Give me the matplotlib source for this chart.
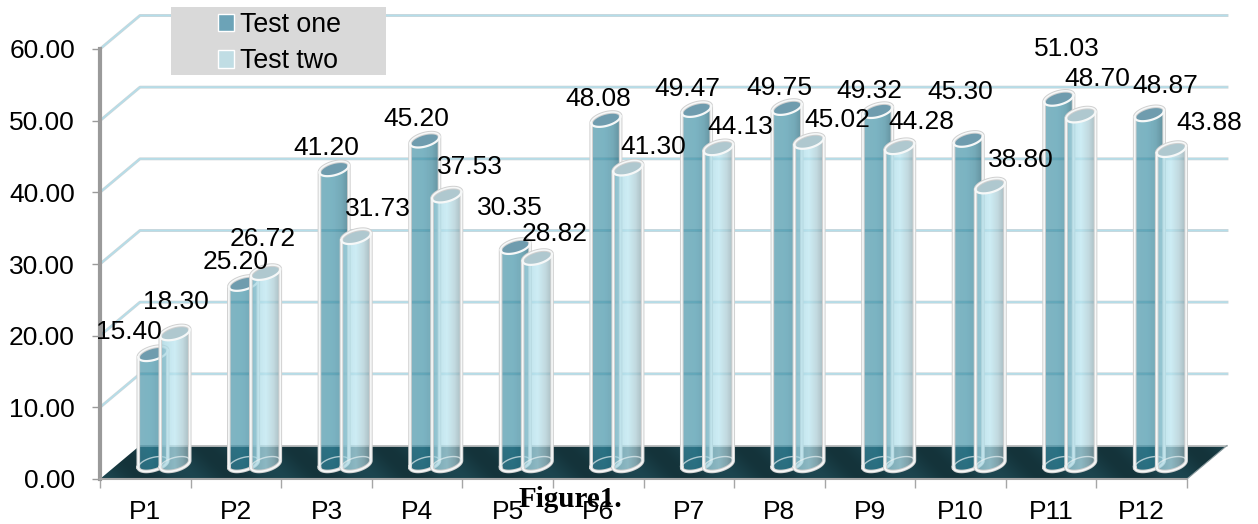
import numpy as np
import matplotlib
matplotlib.use("Agg")
import matplotlib.pyplot as plt
from matplotlib.patches import Polygon, Rectangle, Patch
from matplotlib.path import Path
from matplotlib.colors import to_rgb

categories = ["P1", "P2", "P3", "P4", "P5", "P6", "P7", "P8", "P9", "P10", "P11", "P12"]
test_one = [15.40, 25.20, 41.20, 45.20, 30.35, 48.08, 49.47, 49.75, 49.32, 45.30, 51.03, 48.87]
test_two = [18.30, 26.72, 31.73, 37.53, 28.82, 41.30, 44.13, 45.02, 44.28, 38.80, 48.70, 43.88]
y_ticks = [0, 10, 20, 30, 40, 50, 60]

# label offsets from the top of each cylinder, in pixels (layout only)
off_one = [(-24, 22), (-8, 21), (-8, 21), (-8, 21), (-5, 38), (-8, 20),
           (-9, 20), (-8, 19), (-8, 20), (-8, 47), (8, 49), (16, 28)]
off_two = [(1, 31), (-3, 34), (22, 28), (23, 28), (17, 23), (25, 21),
           (22, 21), (28, 21), (22, 25), (31, 26), (16, 36), (38, 27)]

W, H = 1258, 524
L, R, T, B = 100, 1187, 49, 479
plt.rcParams["font.family"] = ["Liberation Sans", "DejaVu Sans"]
FS = 19

fig = plt.figure(figsize=(W / 100, H / 100), dpi=100)
ax = fig.add_axes([L / W, 1 - B / H, (R - L) / W, (B - T) / H])
ax.set_xlim(0, 12)
ax.set_ylim(0, 60)
PX, PY = 12 / (R - L), 60 / (B - T)
DX, DY = 40 * PX, 33.5 * PY


def clipped_image(rgba, extent, verts, z):
    im = ax.imshow(rgba, extent=extent, aspect="auto", origin="lower",
                   interpolation="bilinear", zorder=z)
    im.set_clip_box(fig.bbox)
    im.set_clip_path(Path(verts), ax.transData)
    return im


# back wall grid
for v in y_ticks[1:]:
    xs = [0, DX, 12 + DX]
    ys = [v, v + DY, v + DY]
    ax.plot(xs, ys, color="#ccd6d9", lw=2.1, clip_on=False, zorder=1, solid_joinstyle="round")
    ax.plot(xs, ys, color="#b4deea", lw=1.1, clip_on=False, zorder=1.1, solid_joinstyle="round")

# floor
floor = np.array([[0, 0], [DX, DY], [12 + DX, DY], [12, 0]])
xx, yy = np.meshgrid(np.linspace(0, 12 + DX, 1200), np.linspace(0, DY, 34))
tex = 0.5 + 0.5 * np.cos((xx / PX + yy / PY) * 2 * np.pi / 90)
c0, c1 = np.array(to_rgb("#14333a")), np.array(to_rgb("#1d4650"))
floor_img = c0[None, None, :] * (1 - tex[..., None]) + c1[None, None, :] * tex[..., None]
clipped_image(floor_img, (0, 12 + DX, 0, DY), floor, 2)
ax.plot([DX, 12 + DX], [DY, DY], color="#c9c9c9", lw=1.2, clip_on=False, zorder=2.1)
ax.plot([12, 12 + DX], [0, DY], color="#8a9a9e", lw=0.8, clip_on=False, zorder=2.1)

A, Bb, TH = 15.2, 6.4, np.radians(16)
BASE = 15.0 * PY


def ell(cx, cy, t):
    px_x = A * np.cos(t) * np.cos(TH) - Bb * np.sin(t) * np.sin(TH)
    px_y = A * np.cos(t) * np.sin(TH) + Bb * np.sin(t) * np.cos(TH)
    return np.column_stack([cx + px_x * PX, cy + px_y * PY])


def gradient(stops, alpha):
    pos = [s[0] for s in stops]
    cols = np.array([to_rgb(s[1]) for s in stops])
    u = np.linspace(0, 1, 80)
    rgb = np.column_stack([np.interp(u, pos, cols[:, k]) for k in range(3)])
    return np.dstack([rgb[None, :, :], np.full((1, 80), alpha)])


GR_ONE = gradient([(0, "#3d8ca2"), (0.45, "#348ba2"), (0.72, "#2a7c92"), (1, "#094d62")], 0.65)
GR_TWO = gradient([(0, "#86bcca"), (0.15, "#a5d6e2"), (0.5, "#bae6f1"), (0.75, "#aacbd3"), (1, "#8099a0")], 0.72)


def cylinder(i, offset_px, value, grad, cap, z):
    cx = i + offset_px * PX
    by = BASE
    ty = value + BASE
    tl = np.arctan2(-Bb * np.sin(TH), A * np.cos(TH)) + np.pi  # left-most angle
    t_low = np.linspace(tl, tl + np.pi, 40)   # lower arc, left to right
    t_up = np.linspace(tl + np.pi, tl + 2 * np.pi, 40)  # upper arc, right to left
    body = np.vstack([ell(cx, by, t_low), ell(cx, ty, t_up)])
    clipped_image(grad, (cx - 16 * PX, cx + 16 * PX, 0, 60 + DY), body, z)
    top = ell(cx, ty, np.linspace(0, 2 * np.pi, 80))
    ax.add_patch(Polygon(top, closed=True, fc=cap, ec="none", zorder=z + .01, clip_on=False))
    for lw, col, zz in ((2.6, "#d0d0d0", z + .02), (1.2, "#f6f8f8", z + .03)):
        ax.plot(*np.vstack([body, body[:1]]).T, color=col, lw=lw, clip_on=False, zorder=zz,
                solid_joinstyle="round")
    ax.plot(*ell(cx, ty, t_low).T, color="#f6f8f8", lw=1.6, clip_on=False, zorder=z + .04)
    ax.plot(*ell(cx, by, t_up).T, color="#e6f0f2", lw=1.0, clip_on=False, zorder=z + .04, alpha=.7)


for i in range(len(categories)):
    cylinder(i, 53, test_one[i], GR_ONE, "#6f9cae", 3 + i * .2)
    cylinder(i, 75, test_two[i], GR_TWO, "#afc8cf", 3.1 + i * .2)

# data labels
for i in range(len(categories)):
    for vals, off, cp in ((test_one, off_one, 53), (test_two, off_two, 75)):
        ax.text(i + (cp + off[i][0]) * PX, vals[i] + BASE + off[i][1] * PY, f"{vals[i]:.2f}",
                ha="center", va="center", fontsize=FS, color="black", zorder=20, clip_on=False)

# axes
for s in ("top", "right"):
    ax.spines[s].set_visible(False)
ax.patch.set_alpha(0)
ax.spines["left"].set(color="#9a9a9a", linewidth=3, zorder=15)
ax.spines["bottom"].set(color="#a6a6a6", linewidth=1.5, zorder=15)
ax.set_yticks(y_ticks)
ax.set_yticklabels([f"{v:.2f}" for v in y_ticks], fontsize=FS)
ax.tick_params(axis="y", length=6, width=1, color="#9a9a9a", pad=12)
ax.set_xticks(np.arange(13))
ax.set_xticklabels([])
ax.tick_params(axis="x", which="major", length=6.5, width=1, color="#a6a6a6")
ax.set_xticks(np.arange(12) + 0.5, minor=True)
ax.set_xticklabels(categories, minor=True, fontsize=FS)
ax.tick_params(axis="x", which="minor", length=0, pad=15)

# legend
fig.add_artist(Rectangle((171 / W, 1 - 75 / H), 215 / W, 68 / H, transform=fig.transFigure,
                         fc="#d9d9d9", ec="none", zorder=30))
handles = [Patch(fc="#6ca3b7", ec="white", lw=1, label="Test one"),
           Patch(fc="#c0dde4", ec="white", lw=1, label="Test two")]
leg = fig.legend(handles=handles, loc="upper left", bbox_to_anchor=(215 / W, 1 - 9 / H),
                 frameon=False, fontsize=19.3, handlelength=0.62, handleheight=0.62,
                 handletextpad=0.2, labelspacing=0.4, borderpad=0.1, borderaxespad=0)
leg.set_zorder(31)

fig.text(570 / W, 1 - 507 / H, "Figure1.", family=["Liberation Serif"], weight="bold",
         fontsize=21, ha="center", va="baseline", color="black", zorder=32)

fig.savefig("out.png", dpi=100, facecolor="white")
